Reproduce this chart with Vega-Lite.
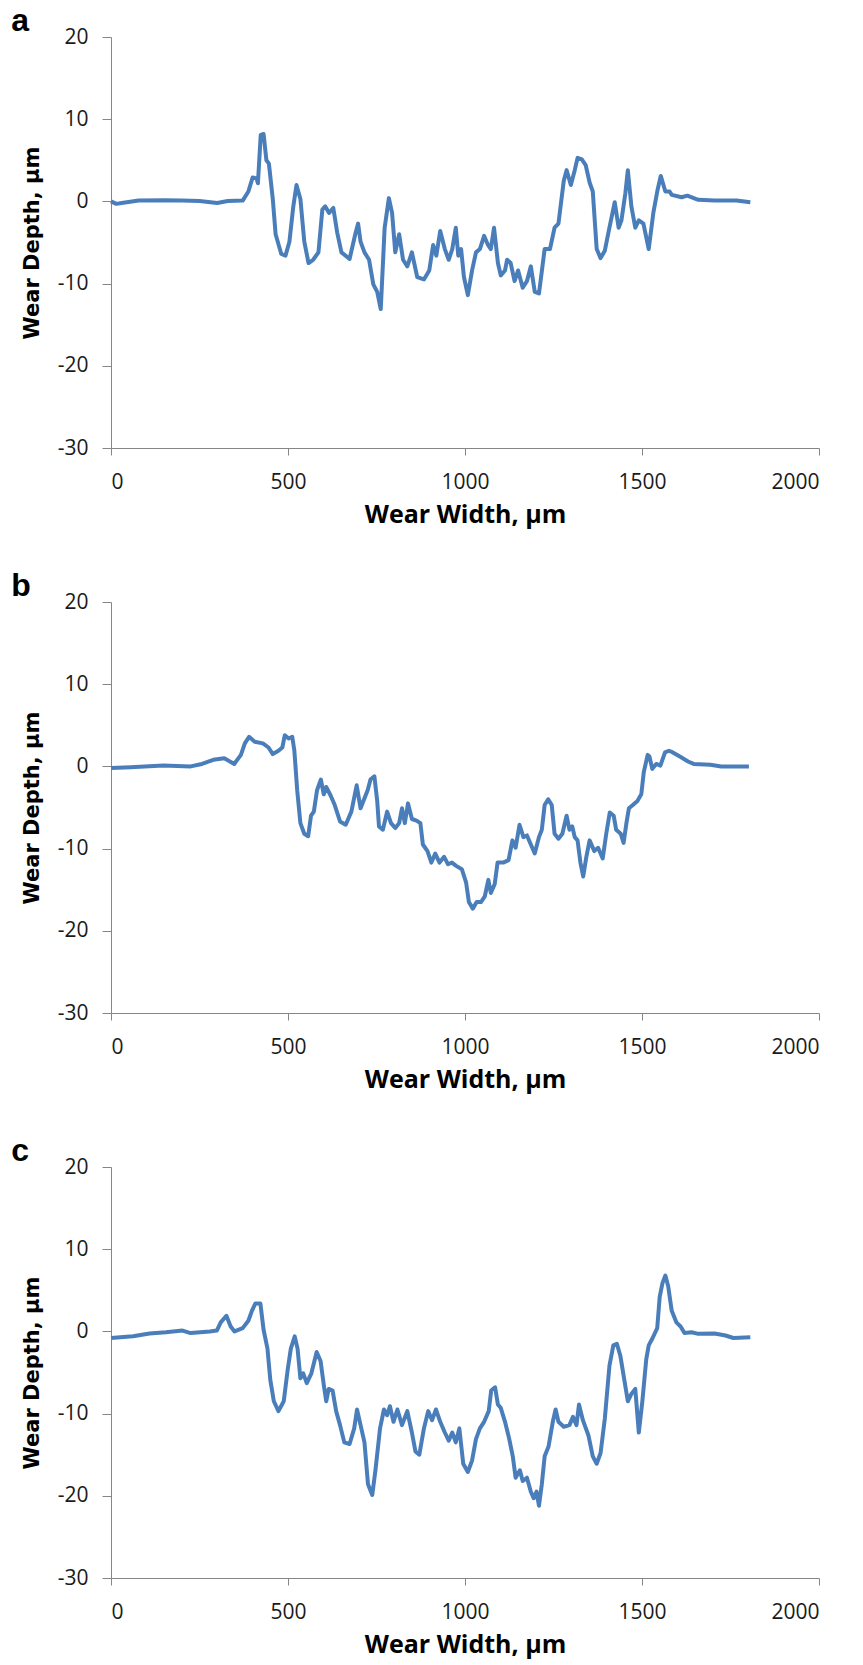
{
  "$schema": "https://vega.github.io/schema/vega-lite/v6.json",
  "padding": {"left": 11, "top": 5, "right": 0, "bottom": 12},
  "background": "white",
  "spacing": 43,
  "datasets": {
    "a": [
      {"x":0,"y":0},{"x":15,"y":-0.3},{"x":30,"y":-0.2},{"x":78,"y":0.1},{"x":150,"y":0.15},{"x":200,"y":0.1},{"x":250,"y":0.05},{"x":300,"y":-0.2},{"x":330,"y":0.05},{"x":372,"y":0.1},{"x":388,"y":1.2},{"x":400,"y":2.9},{"x":411,"y":2.8},{"x":415,"y":2.2},{"x":423,"y":8.1},{"x":431,"y":8.2},{"x":439,"y":5},{"x":446,"y":4.6},{"x":457,"y":0.3},{"x":465,"y":-4},{"x":481,"y":-6.4},{"x":493,"y":-6.6},{"x":504,"y":-4.9},{"x":515,"y":-0.6},{"x":524,"y":2.0},{"x":535,"y":0.3},{"x":546,"y":-4.9},{"x":558,"y":-7.5},{"x":571,"y":-7.1},{"x":586,"y":-6.2},{"x":597,"y":-1.0},{"x":605,"y":-0.6},{"x":616,"y":-1.4},{"x":628,"y":-0.8},{"x":639,"y":-3.8},{"x":651,"y":-6.2},{"x":674,"y":-7},{"x":690,"y":-4},{"x":698,"y":-2.7},{"x":705,"y":-4.9},{"x":716,"y":-6.2},{"x":729,"y":-7.1},{"x":741,"y":-10.1},{"x":752,"y":-11},{"x":762,"y":-13.1},{"x":773,"y":-3.2},{"x":785,"y":0.4},{"x":794,"y":-1.4},{"x":803,"y":-6.2},{"x":814,"y":-4},{"x":825,"y":-7.1},{"x":837,"y":-7.9},{"x":850,"y":-6.2},{"x":865,"y":-9.2},{"x":884,"y":-9.5},{"x":899,"y":-8.4},{"x":910,"y":-5.3},{"x":919,"y":-6.6},{"x":930,"y":-3.6},{"x":943,"y":-5.8},{"x":954,"y":-7.1},{"x":964,"y":-5.8},{"x":974,"y":-3.2},{"x":981,"y":-6.6},{"x":989,"y":-5.8},{"x":997,"y":-9.2},{"x":1008,"y":-11.4},{"x":1020,"y":-8.4},{"x":1031,"y":-6.2},{"x":1042,"y":-5.8},{"x":1054,"y":-4.2},{"x":1065,"y":-5.3},{"x":1073,"y":-5.8},{"x":1082,"y":-3.2},{"x":1093,"y":-7.5},{"x":1101,"y":-9.0},{"x":1113,"y":-8.4},{"x":1119,"y":-7.1},{"x":1129,"y":-7.5},{"x":1140,"y":-9.7},{"x":1150,"y":-8.4},{"x":1163,"y":-10.5},{"x":1175,"y":-9.7},{"x":1186,"y":-7.9},{"x":1197,"y":-11},{"x":1209,"y":-11.2},{"x":1225,"y":-5.8},{"x":1240,"y":-5.8},{"x":1253,"y":-3.2},{"x":1264,"y":-2.7},{"x":1279,"y":2.5},{"x":1287,"y":3.8},{"x":1299,"y":2.0},{"x":1310,"y":3.8},{"x":1318,"y":5.3},{"x":1330,"y":5.1},{"x":1341,"y":4.4},{"x":1352,"y":2.3},{"x":1361,"y":1.2},{"x":1372,"y":-5.8},{"x":1383,"y":-6.9},{"x":1395,"y":-6},{"x":1408,"y":-3.2},{"x":1423,"y":-0.1},{"x":1434,"y":-3.2},{"x":1442,"y":-2.3},{"x":1453,"y":1.0},{"x":1460,"y":3.8},{"x":1470,"y":-0.6},{"x":1481,"y":-3.2},{"x":1491,"y":-2.3},{"x":1504,"y":-2.7},{"x":1519,"y":-5.8},{"x":1532,"y":-1.4},{"x":1543,"y":1.2},{"x":1553,"y":3.1},{"x":1566,"y":1.2},{"x":1578,"y":1.2},{"x":1584,"y":0.8},{"x":1612,"y":0.5},{"x":1628,"y":0.7},{"x":1659,"y":0.2},{"x":1705,"y":0.1},{"x":1767,"y":0.1},{"x":1806,"y":-0.1}
    ],
    "b": [
      {"x":0,"y":-0.2},{"x":55,"y":-0.1},{"x":148,"y":0.1},{"x":225,"y":0},{"x":257,"y":0.3},{"x":289,"y":0.8},{"x":320,"y":1.0},{"x":348,"y":0.3},{"x":367,"y":1.4},{"x":378,"y":2.8},{"x":390,"y":3.6},{"x":406,"y":3.0},{"x":429,"y":2.8},{"x":445,"y":2.3},{"x":457,"y":1.5},{"x":473,"y":1.9},{"x":484,"y":2.3},{"x":491,"y":3.8},{"x":502,"y":3.4},{"x":512,"y":3.6},{"x":518,"y":1.9},{"x":526,"y":-2.9},{"x":535,"y":-6.9},{"x":546,"y":-8.2},{"x":557,"y":-8.5},{"x":565,"y":-6.0},{"x":573,"y":-5.5},{"x":582,"y":-2.9},{"x":593,"y":-1.6},{"x":601,"y":-3.4},{"x":608,"y":-2.5},{"x":621,"y":-3.6},{"x":632,"y":-4.7},{"x":647,"y":-6.7},{"x":663,"y":-7.1},{"x":679,"y":-5.5},{"x":694,"y":-2.3},{"x":705,"y":-5.1},{"x":713,"y":-4.2},{"x":725,"y":-2.9},{"x":733,"y":-1.6},{"x":744,"y":-1.2},{"x":752,"y":-4.2},{"x":757,"y":-7.3},{"x":768,"y":-7.7},{"x":780,"y":-5.5},{"x":791,"y":-6.9},{"x":803,"y":-7.5},{"x":814,"y":-6.9},{"x":822,"y":-5.1},{"x":830,"y":-6.9},{"x":839,"y":-4.5},{"x":850,"y":-6.4},{"x":863,"y":-6.6},{"x":874,"y":-6.9},{"x":881,"y":-9.5},{"x":894,"y":-10.3},{"x":905,"y":-11.7},{"x":916,"y":-10.6},{"x":928,"y":-11.7},{"x":941,"y":-11},{"x":952,"y":-11.9},{"x":963,"y":-11.7},{"x":975,"y":-12.1},{"x":991,"y":-12.5},{"x":1003,"y":-14.1},{"x":1011,"y":-16.5},{"x":1022,"y":-17.3},{"x":1033,"y":-16.5},{"x":1045,"y":-16.5},{"x":1056,"y":-15.8},{"x":1066,"y":-13.8},{"x":1073,"y":-15.4},{"x":1084,"y":-14.3},{"x":1092,"y":-11.7},{"x":1108,"y":-11.7},{"x":1123,"y":-11.4},{"x":1134,"y":-9.0},{"x":1143,"y":-9.9},{"x":1154,"y":-7.1},{"x":1165,"y":-8.6},{"x":1175,"y":-8.4},{"x":1186,"y":-9.5},{"x":1197,"y":-10.6},{"x":1209,"y":-8.6},{"x":1217,"y":-7.7},{"x":1225,"y":-4.7},{"x":1235,"y":-4.0},{"x":1245,"y":-4.7},{"x":1253,"y":-8.2},{"x":1264,"y":-8.8},{"x":1275,"y":-8.2},{"x":1287,"y":-6.0},{"x":1295,"y":-7.7},{"x":1303,"y":-7.3},{"x":1310,"y":-8.6},{"x":1318,"y":-9.0},{"x":1326,"y":-11.7},{"x":1334,"y":-13.4},{"x":1342,"y":-11.2},{"x":1352,"y":-9.0},{"x":1365,"y":-10.3},{"x":1376,"y":-9.9},{"x":1389,"y":-11.2},{"x":1399,"y":-8.2},{"x":1409,"y":-5.6},{"x":1420,"y":-6.0},{"x":1427,"y":-7.7},{"x":1440,"y":-8.2},{"x":1448,"y":-9.3},{"x":1456,"y":-6.9},{"x":1463,"y":-5.1},{"x":1474,"y":-4.7},{"x":1487,"y":-4.2},{"x":1498,"y":-3.4},{"x":1505,"y":-0.7},{"x":1516,"y":1.4},{"x":1521,"y":1.2},{"x":1529,"y":-0.3},{"x":1540,"y":0.3},{"x":1552,"y":0.1},{"x":1565,"y":1.7},{"x":1576,"y":1.9},{"x":1587,"y":1.7},{"x":1607,"y":1.2},{"x":1630,"y":0.6},{"x":1646,"y":0.3},{"x":1693,"y":0.2},{"x":1724,"y":0},{"x":1802,"y":0}
    ],
    "c": [
      {"x":0,"y":-0.8},{"x":62,"y":-0.6},{"x":109,"y":-0.25},{"x":155,"y":-0.1},{"x":202,"y":0.1},{"x":225,"y":-0.2},{"x":279,"y":0},{"x":299,"y":0.1},{"x":310,"y":1.1},{"x":326,"y":1.9},{"x":338,"y":0.6},{"x":349,"y":0},{"x":372,"y":0.4},{"x":388,"y":1.3},{"x":398,"y":2.5},{"x":408,"y":3.4},{"x":422,"y":3.4},{"x":431,"y":0.2},{"x":442,"y":-2.1},{"x":450,"y":-5.9},{"x":460,"y":-8.5},{"x":473,"y":-9.7},{"x":488,"y":-8.5},{"x":499,"y":-4.7},{"x":508,"y":-2.1},{"x":519,"y":-0.6},{"x":527,"y":-2.1},{"x":535,"y":-5.7},{"x":543,"y":-5.1},{"x":553,"y":-6.3},{"x":566,"y":-5.1},{"x":581,"y":-2.5},{"x":592,"y":-3.6},{"x":602,"y":-6.8},{"x":608,"y":-8.5},{"x":615,"y":-7.0},{"x":626,"y":-7.2},{"x":636,"y":-9.7},{"x":647,"y":-11.4},{"x":659,"y":-13.5},{"x":674,"y":-13.7},{"x":687,"y":-11.8},{"x":695,"y":-9.5},{"x":705,"y":-11.4},{"x":716,"y":-13.5},{"x":726,"y":-18.6},{"x":738,"y":-19.9},{"x":747,"y":-16.9},{"x":760,"y":-11.8},{"x":771,"y":-9.5},{"x":780,"y":-10.2},{"x":788,"y":-9.1},{"x":798,"y":-11},{"x":809,"y":-9.5},{"x":822,"y":-11.4},{"x":837,"y":-9.7},{"x":850,"y":-12.3},{"x":860,"y":-14.6},{"x":871,"y":-15},{"x":884,"y":-11.8},{"x":896,"y":-9.7},{"x":907,"y":-10.8},{"x":918,"y":-9.5},{"x":930,"y":-11},{"x":943,"y":-12.3},{"x":954,"y":-13.3},{"x":964,"y":-12.3},{"x":974,"y":-13.5},{"x":984,"y":-11.8},{"x":995,"y":-16.1},{"x":1008,"y":-17.1},{"x":1020,"y":-15.7},{"x":1031,"y":-13.1},{"x":1042,"y":-11.8},{"x":1054,"y":-11},{"x":1067,"y":-9.7},{"x":1074,"y":-7.2},{"x":1085,"y":-6.8},{"x":1093,"y":-8.9},{"x":1101,"y":-9.3},{"x":1113,"y":-11},{"x":1124,"y":-12.9},{"x":1135,"y":-15.2},{"x":1143,"y":-17.8},{"x":1155,"y":-16.9},{"x":1163,"y":-18.2},{"x":1175,"y":-17.8},{"x":1186,"y":-19.5},{"x":1194,"y":-20.3},{"x":1202,"y":-19.5},{"x":1209,"y":-21.2},{"x":1217,"y":-18.6},{"x":1225,"y":-15.2},{"x":1236,"y":-14},{"x":1248,"y":-11},{"x":1256,"y":-9.5},{"x":1264,"y":-11},{"x":1279,"y":-11.6},{"x":1295,"y":-11.4},{"x":1305,"y":-10.4},{"x":1315,"y":-11.4},{"x":1322,"y":-8.9},{"x":1333,"y":-10.8},{"x":1349,"y":-12.7},{"x":1361,"y":-15.2},{"x":1372,"y":-16.1},{"x":1383,"y":-14.8},{"x":1395,"y":-10.6},{"x":1408,"y":-4.2},{"x":1419,"y":-1.7},{"x":1429,"y":-1.5},{"x":1439,"y":-3.0},{"x":1450,"y":-5.9},{"x":1460,"y":-8.5},{"x":1470,"y":-7.6},{"x":1481,"y":-7.0},{"x":1491,"y":-12.3},{"x":1501,"y":-8.5},{"x":1512,"y":-3.4},{"x":1519,"y":-1.7},{"x":1530,"y":-0.8},{"x":1543,"y":0.4},{"x":1550,"y":4.2},{"x":1558,"y":5.9},{"x":1566,"y":6.8},{"x":1574,"y":5.5},{"x":1584,"y":2.5},{"x":1597,"y":1.1},{"x":1609,"y":0.6},{"x":1620,"y":-0.2},{"x":1640,"y":-0.1},{"x":1659,"y":-0.3},{"x":1705,"y":-0.25},{"x":1736,"y":-0.5},{"x":1758,"y":-0.8},{"x":1806,"y":-0.7}
    ]
  },
  "vconcat": [
    {
      "data": {"name": "a"},
      "title": {"text": "a"},
      "width": 708, "height": 411,
      "mark": {"type": "line", "color": "#4a7ebb", "strokeWidth": 4, "strokeJoin": "round"},
      "encoding": {
        "x": {"field": "x", "type": "quantitative", "title": "Wear Width, µm", "scale": {"domain": [0, 2000], "nice": false}, "axis": {"values": [0, 500, 1000, 1500, 2000], "labelExpr": "'' + datum.value"}},
        "y": {"field": "y", "type": "quantitative", "title": "Wear Depth, µm", "scale": {"domain": [-30, 20], "nice": false}, "axis": {"values": [-30, -20, -10, 0, 10, 20], "labelExpr": "'' + datum.value"}}
      }
    },
    {
      "data": {"name": "b"},
      "title": {"text": "b"},
      "width": 708, "height": 411,
      "mark": {"type": "line", "color": "#4a7ebb", "strokeWidth": 4, "strokeJoin": "round"},
      "encoding": {
        "x": {"field": "x", "type": "quantitative", "title": "Wear Width, µm", "scale": {"domain": [0, 2000], "nice": false}, "axis": {"values": [0, 500, 1000, 1500, 2000], "labelExpr": "'' + datum.value"}},
        "y": {"field": "y", "type": "quantitative", "title": "Wear Depth, µm", "scale": {"domain": [-30, 20], "nice": false}, "axis": {"values": [-30, -20, -10, 0, 10, 20], "labelExpr": "'' + datum.value"}}
      }
    },
    {
      "data": {"name": "c"},
      "title": {"text": "c"},
      "width": 708, "height": 411,
      "mark": {"type": "line", "color": "#4a7ebb", "strokeWidth": 4, "strokeJoin": "round"},
      "encoding": {
        "x": {"field": "x", "type": "quantitative", "title": "Wear Width, µm", "scale": {"domain": [0, 2000], "nice": false}, "axis": {"values": [0, 500, 1000, 1500, 2000], "labelExpr": "'' + datum.value"}},
        "y": {"field": "y", "type": "quantitative", "title": "Wear Depth, µm", "scale": {"domain": [-30, 20], "nice": false}, "axis": {"values": [-30, -20, -10, 0, 10, 20], "labelExpr": "'' + datum.value"}}
      }
    }
  ],
  "config": {
    "view": {"stroke": null},
    "title": {"anchor": "start", "frame": "bounds", "font": "Liberation Sans", "fontSize": 32, "fontWeight": "bold", "color": "#000000", "offset": -12, "dx": -10},
    "axis": {
      "grid": false,
      "domainColor": "#868686",
      "tickColor": "#868686",
      "labelFont": "Open Sans",
      "labelFontSize": 21,
      "labelColor": "#1a1a1a",
      "titleColor": "#000000",
      "titleFontWeight": "bold"
    },
    "axisX": {"tickSize": 7, "labelPadding": 16, "titleFont": "Open Sans", "titleFontSize": 25, "titlePadding": 10},
    "axisY": {"tickSize": 9, "labelPadding": 14, "titleFont": "DejaVu Sans", "titleFontSize": 21, "titlePadding": 15}
  }
}
